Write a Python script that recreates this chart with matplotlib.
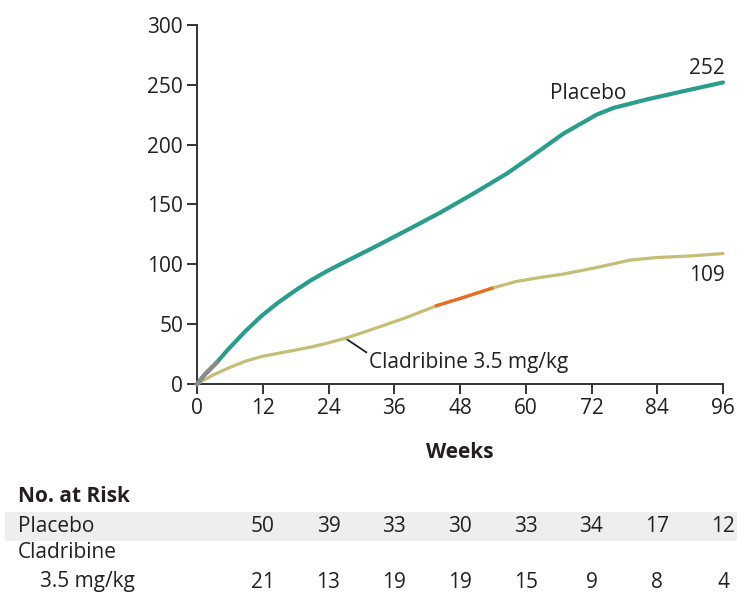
import matplotlib
matplotlib.use("Agg")
import matplotlib.pyplot as plt
import matplotlib.transforms as mtransforms
from matplotlib.patches import Rectangle

plt.rcParams['font.family'] = ['Open Sans', 'DejaVu Sans']

# Data
placebo_weeks = [0, 1.5, 3.6, 5.7, 8.8, 11.8, 14.8, 17.9, 20.9, 24, 27, 32.2, 38.3, 44.3,
                 50.4, 56.5, 61, 66.8, 72.9, 76, 82, 88.1, 96]
placebo_vals = [0, 8.3, 18, 29, 44, 57, 68, 78, 87, 95, 102, 114, 128.5, 143,
                159, 175.7, 190, 209, 225, 230.7, 237.7, 244, 252]
clad_weeks = [0, 2.7, 5.7, 8.8, 11.8, 14.8, 17.9, 20.9, 24, 27.3, 32.2, 38.3, 43.7,
              48.6, 53.8, 58.3, 62.6, 66.8, 72.9, 79, 83.9, 90, 96]
clad_vals = [0, 7, 13.3, 19, 23, 25.6, 28.3, 31, 34.4, 38.5, 46, 55.7, 65.4,
             72.3, 80, 85.7, 89, 91.8, 97.3, 103.5, 105.7, 107, 109]

x_ticks = [0, 12, 24, 36, 48, 60, 72, 84, 96]
y_ticks = [0, 50, 100, 150, 200, 250, 300]
risk_weeks = [12, 24, 36, 48, 60, 72, 84, 96]
risk_placebo = [50, 39, 33, 30, 33, 34, 17, 12]
risk_clad = [21, 13, 19, 19, 15, 9, 8, 4]

TEAL = '#2A9D8C'
KHAKI = '#C6BD76'
ORANGE = '#EC6A22'
GREY = '#8A8A8A'
TXT = '#231F20'
FS = 15

W, H = 737, 595
fig = plt.figure(figsize=(W / 100, H / 100), dpi=100)
ax = fig.add_axes([197 / W, 1 - 384 / H, (723 - 197) / W, (384 - 25) / H])

ax.plot(clad_weeks, clad_vals, color=KHAKI, lw=2.3, solid_capstyle='round',
        solid_joinstyle='round', zorder=3)
ow = [w for w in clad_weeks if 43.7 <= w <= 53.8]
ov = [v for w, v in zip(clad_weeks, clad_vals) if 43.7 <= w <= 53.8]
ax.plot(ow, ov, color=ORANGE, lw=2.3, solid_joinstyle='round', zorder=4)

ax.plot(placebo_weeks, placebo_vals, color=TEAL, lw=3.0, solid_capstyle='round',
        solid_joinstyle='round', zorder=3)
gw = [w for w in placebo_weeks if w <= 3.6]
gv = [v for w, v in zip(placebo_weeks, placebo_vals) if w <= 3.6]
ax.plot(gw, gv, color=GREY, lw=3.0, solid_joinstyle='round', zorder=4)

ax.set_xlim(0, 96)
ax.set_ylim(0, 300)
ax.set_xticks(x_ticks)
ax.set_yticks(y_ticks)
for s in ['top', 'right']:
    ax.spines[s].set_visible(False)
for s in ['left', 'bottom']:
    ax.spines[s].set_color('#333333')
    ax.spines[s].set_linewidth(1.4)
ax.tick_params(direction='out', length=7, width=1.4, color='#333333',
               labelsize=FS, labelcolor=TXT, pad=3)
for l in ax.lines:
    l.set_clip_on(False)

ax.text(64.4, 243, 'Placebo', fontsize=FS, color=TXT, va='center', ha='left')
ax.text(96.4, 264, '252', fontsize=FS, color=TXT, va='center', ha='right')
ax.text(96.4, 91, '109', fontsize=FS, color=TXT, va='center', ha='right')
ax.text(31.4, 18, 'Cladribine 3.5 mg/kg', fontsize=FS, color=TXT, va='center', ha='left')
ax.plot([27.3, 30.9], [37.5, 26.5], color=TXT, lw=1.3, clip_on=False)

def fy(py):
    return 1 - py / H

fig.text(460 / W, fy(452), 'Weeks', fontsize=FS, fontweight='bold', color=TXT,
         ha='center', va='center')

fig.patches.append(Rectangle((5 / W, fy(541)), (737 - 5) / W, 29 / H,
                             transform=fig.transFigure, facecolor='#EEEEEE',
                             edgecolor='none', zorder=0))
fig.text(18 / W, fy(497), 'No. at Risk', fontsize=FS, fontweight='bold', color=TXT,
         ha='left', va='center')
fig.text(18 / W, fy(526), 'Placebo', fontsize=FS, color=TXT, ha='left', va='center')
fig.text(18 / W, fy(553), 'Cladribine', fontsize=FS, color=TXT, ha='left', va='center')
fig.text(40 / W, fy(582), '3.5 mg/kg', fontsize=FS, color=TXT, ha='left', va='center')

trans = mtransforms.blended_transform_factory(ax.transData, fig.transFigure)
for w, a, b in zip(risk_weeks, risk_placebo, risk_clad):
    fig.text(w, fy(526), str(a), fontsize=FS, color=TXT, ha='center', va='center', transform=trans)
    fig.text(w, fy(582), str(b), fontsize=FS, color=TXT, ha='center', va='center', transform=trans)

fig.savefig('out.png', dpi=100)
